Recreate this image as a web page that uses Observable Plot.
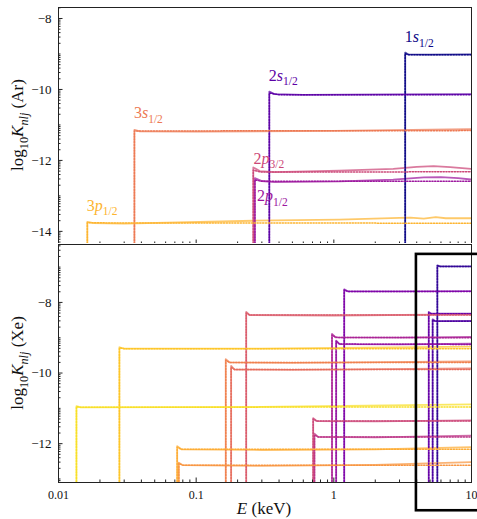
<!DOCTYPE html>
<html><head><meta charset="utf-8">
<script src="https://cdn.jsdelivr.net/npm/d3@7"></script>
<script src="https://cdn.jsdelivr.net/npm/@observablehq/plot@0.6"></script>
<style>
body{margin:0;background:#fff;overflow:hidden;}
#fig{position:relative;width:477px;height:519px;overflow:hidden;background:#fff;}
#top{position:absolute;left:0;top:0;}
#bot{position:absolute;left:0;top:243px;}
svg{overflow:hidden;}
svg text{font-family:"Liberation Serif" !important;}
</style></head><body><div id="fig"><div id="top"></div><div id="bot"></div></div>
<script>
// ---------------- data ----------------
const xTicks = [0.01, 0.1, 1, 10];
const xTickLabels = ["0.01", "0.1", "1", "10"];
const arYTicks = [-14, -12, -10, -8];
const xeYTicks = [-12, -10, -8];

// Argon levels (index in the shell list 1s..3p3/2 -> 7 levels)
const arLevels = ["1s1/2", "2s1/2", "2p1/2", "2p3/2", "3s1/2", "3p1/2"];
const arIndex = [0, 1, 2, 3, 4, 5];
const arSolid = [
  [[3.3, -8.96], [3.45, -9.01], [5, -9.02], [10, -9.01]],
  [[0.34, -10.06], [0.37, -10.13], [0.6, -10.15], [3, -10.14], [10, -10.13]],
  [[0.267, -12.5], [0.3, -12.58], [0.37, -12.61], [1.1, -12.59], [2.7, -12.54], [4.5, -12.48], [6, -12.47], [8, -12.5], [10, -12.54]],
  [[0.26, -12.2], [0.29, -12.3], [0.37, -12.33], [1.1, -12.29], [2.7, -12.24], [4, -12.18], [5.3, -12.16], [7, -12.19], [10, -12.24]],
  [[0.0356, -11.14], [0.039, -11.18], [0.1, -11.19], [1, -11.17], [10, -11.12]],
  [[0.0162, -13.73], [0.018, -13.77], [0.03, -13.78], [0.26, -13.7], [1.1, -13.67], [3, -13.62], [3.6, -13.61], [4.5, -13.64], [5.5, -13.6], [6.5, -13.63], [10, -13.63]]
];
const arDotted = [
  [[3.3, -8.99], [3.5, -9.02], [10, -9.02]],
  [[0.34, -10.1], [0.4, -10.15], [10, -10.15]],
  [[0.267, -12.55], [0.3, -12.59], [10, -12.59]],
  [[0.26, -12.28], [0.3, -12.33], [10, -12.32]],
  [[0.0356, -11.17], [10, -11.16]],
  [[0.0162, -13.76], [10, -13.77]]
];
// label anchors (energy, log10 K) for the Ar level names
const arLabelE = [3.3, 0.34, 0.279, 0.263, 0.0356, 0.0162];
const arLabelK = [-8.68, -9.77, -13.17, -12.11, -10.82, -13.44];

// Xenon levels (index in the shell list 1s..5p3/2 -> 17 levels)
const xeLevels = ["2s1/2", "2p1/2", "2p3/2", "3s1/2", "3p1/2", "3p3/2", "3d3/2", "3d5/2", "4s1/2", "4p1/2", "4p3/2", "4d3/2", "4d5/2", "5s1/2", "5p1/2"];
const xeIndex = [1, 2, 3, 4, 5, 6, 7, 8, 9, 10, 11, 12, 13, 14, 15];
const xeSolid = [
  [[5.65, -6.95], [5.9, -6.98], [10, -6.98]],
  [[5.22, -8.48], [5.45, -8.53], [10, -8.52]],
  [[4.89, -8.27], [5.1, -8.32], [10, -8.32]],
  [[1.19, -7.63], [1.27, -7.69], [3, -7.69], [10, -7.68]],
  [[1.04, -9.08], [1.1, -9.18], [3, -9.19], [10, -9.17]],
  [[0.97, -8.89], [1.03, -8.99], [3, -9.0], [10, -8.98]],
  [[0.723, -11.72], [0.77, -11.81], [2, -11.82], [10, -11.77]],
  [[0.708, -11.28], [0.75, -11.36], [2, -11.37], [10, -11.34]],
  [[0.231, -8.27], [0.245, -8.36], [1, -8.37], [10, -8.34]],
  [[0.1795, -9.8], [0.19, -9.9], [0.5, -9.91], [10, -9.87]],
  [[0.164, -9.61], [0.175, -9.7], [0.5, -9.71], [10, -9.67]],
  [[0.0748, -12.54], [0.08, -12.61], [0.3, -12.63], [2, -12.6], [10, -12.52]],
  [[0.0728, -12.07], [0.078, -12.16], [0.3, -12.18], [2, -12.16], [10, -12.1]],
  [[0.0277, -9.27], [0.03, -9.31], [0.3, -9.31], [10, -9.25]],
  [[0.0135, -10.94], [0.0145, -10.97], [0.3, -10.96], [10, -10.89]]
];
const xeDotted = [
  [[5.65, -6.96], [5.9, -6.98], [10, -6.98]],
  [[5.22, -8.5], [5.45, -8.53], [10, -8.53]],
  [[4.89, -8.29], [5.1, -8.32], [10, -8.32]],
  [[1.19, -7.65], [1.27, -7.69], [10, -7.69]],
  [[1.04, -9.1], [1.1, -9.18], [10, -9.19]],
  [[0.97, -8.92], [1.03, -8.99], [10, -9.0]],
  [[0.723, -11.75], [0.77, -11.81], [10, -11.81]],
  [[0.708, -11.3], [0.75, -11.36], [10, -11.36]],
  [[0.231, -8.3], [0.245, -8.36], [10, -8.36]],
  [[0.1795, -9.83], [0.19, -9.9], [10, -9.9]],
  [[0.164, -9.64], [0.175, -9.7], [10, -9.7]],
  [[0.0748, -12.56], [0.08, -12.61], [10, -12.61]],
  [[0.0728, -12.1], [0.078, -12.16], [10, -12.16]],
  [[0.0277, -9.29], [0.03, -9.31], [10, -9.31]],
  [[0.0135, -10.95], [0.0145, -10.97], [10, -10.96]]
];
// zoom-box outline drawn over the Xe panel
const boxE = [3.98, 40];
const boxK = [-13.9, -6.64];

// ---------------- helpers ----------------
const FONT = "Liberation Serif";
function rowsOf(curves, colors, yFloor) {
  const rows = [];
  curves.forEach((pts, i) => {
    rows.push({id: i, E: pts[0][0], K: yFloor, c: colors[i]});
    for (const [E, K] of pts) rows.push({id: i, E, K, c: colors[i]});
  });
  return rows;
}
function minorY(domain) {
  const out = [];
  for (let n = Math.floor(domain[0]) - 1; n <= Math.ceil(domain[1]); n++) {
    for (let k = 1; k <= 9; k++) {
      const v = n + Math.log10(k);
      if (v >= domain[0] && v <= domain[1] && !(k === 1 && n % 2 === 0)) out.push(v);
    }
  }
  return out;
}
function minorX() {
  const out = [];
  for (let n = -2; n <= 0; n++) for (let k = 2; k <= 9; k++) out.push(k * Math.pow(10, n));
  return out;
}
function levelParts(s) {
  return [{t: s[0]}, {t: s[1], i: true}, {t: s.slice(2), sub: true}];
}
function addMath(svg, x, y, parts, size, color, rotate) {
  const t = svg.append("text").attr("x", x).attr("y", y).attr("fill", color)
    .attr("font-family", FONT).attr("font-size", size).attr("text-anchor", "start");
  if (rotate) t.attr("transform", `rotate(-90 ${x} ${y})`).attr("text-anchor", "middle");
  let sub = false;
  for (const p of parts) {
    const ts = t.append("tspan").text(p.t);
    if (p.i) ts.attr("font-style", "italic");
    if (p.sub) {
      ts.attr("font-size", size * 0.72);
      if (!sub) { ts.attr("dy", size * 0.28); sub = true; }
    } else if (sub) { ts.attr("dy", -size * 0.28); sub = false; }
  }
  return t;
}

function panel({el, yDomain, yTicks, solid, dotted, colors, height, marginTop, marginBottom, showX, box}) {
  const yFloor = yDomain[0] - 1;
  const sRows = rowsOf(solid, colors, yFloor);
  const dRows = rowsOf(dotted, colors, yFloor);
  const marks = [
    Plot.line(sRows, {x: "E", y: "K", z: "id", stroke: "c", strokeWidth: 1.8, strokeOpacity: 0.72, clip: true}),
    Plot.line(dRows, {x: "E", y: "K", z: "id", stroke: "c", strokeWidth: 1.5, strokeDasharray: "1.2,1.6", clip: true}),
    Plot.axisY(yTicks, {tickSize: -4.5, fill: "none", label: null, stroke: "#222"}),
    Plot.axisY(minorY(yDomain), {tickSize: -2.5, fill: "none", label: null, stroke: "#222"}),
    Plot.axisY(yTicks, {tickSize: 0, tickPadding: 7, label: null, fill: "#111", fontSize: 13}),
    Plot.axisX(xTicks, {tickSize: -4.5, fill: "none", label: null, stroke: "#222"}),
    Plot.axisX(minorX(), {tickSize: -2.5, fill: "none", label: null, stroke: "#222"}),
    Plot.frame({stroke: "#222", strokeWidth: 1})
  ];
  if (showX) marks.push(Plot.axisX(xTicks, {tickSize: 0, tickPadding: 8, label: null, fill: "#111", fontSize: 12,
    tickFormat: (d) => xTickLabels[xTicks.indexOf(d)]}));
  if (box) marks.push(Plot.rect([0], {x1: () => box.E[0], x2: () => box.E[1], y1: () => box.K[0], y2: () => box.K[1],
    fill: "none", stroke: "black", strokeWidth: 2.6, clip: false}));
  const p = Plot.plot({
    width: 477, height, marginTop, marginBottom, marginLeft: 58, marginRight: 6,
    style: {fontFamily: FONT, fontSize: "13px", background: "white", color: "#111"},
    x: {type: "log", domain: [0.01, 10]},
    y: {domain: yDomain},
    color: {type: "identity"},
    marks
  });
  document.getElementById(el).appendChild(p);
  return p;
}

// ---------------- top (Ar) ----------------
const arColors = arIndex.map((i) => d3.interpolatePlasma(i / 6));
const pTop = panel({el: "top", yDomain: [-14.37, -7.69], yTicks: arYTicks, solid: arSolid, dotted: arDotted,
  colors: arColors, height: 245, marginTop: 7, marginBottom: 1, showX: false});
{
  const sx = pTop.scale("x"), sy = pTop.scale("y");
  const svg = d3.select(pTop);
  arLevels.forEach((lv, i) => addMath(svg, sx.apply(arLabelE[i]), sy.apply(arLabelK[i]), levelParts(lv), 16, arColors[i]));
  addMath(svg, 23, 125, [{t: "log"}, {t: "10", sub: true}, {t: "K", i: true}, {t: "nlj", i: true, sub: true}, {t: " (Ar)"}], 17, "#111", true);
}

// ---------------- bottom (Xe) ----------------
const xeColors = xeIndex.map((i) => d3.interpolatePlasma(i / 16));
const pBot = panel({el: "bot", yDomain: [-13.1, -6.36], yTicks: xeYTicks, solid: xeSolid, dotted: xeDotted,
  colors: xeColors, height: 276, marginTop: 1, marginBottom: 37, showX: true, box: {E: boxE, K: boxK}});
{
  const svg = d3.select(pBot);
  addMath(svg, 23, 120, [{t: "log"}, {t: "10", sub: true}, {t: "K", i: true}, {t: "nlj", i: true, sub: true}, {t: " (Xe)"}], 17, "#111", true);
  const xl = addMath(svg, 264, 271, [{t: "E", i: true}, {t: " (keV)"}], 17, "#111", false);
  xl.attr("text-anchor", "middle");
}
</script></body></html>
